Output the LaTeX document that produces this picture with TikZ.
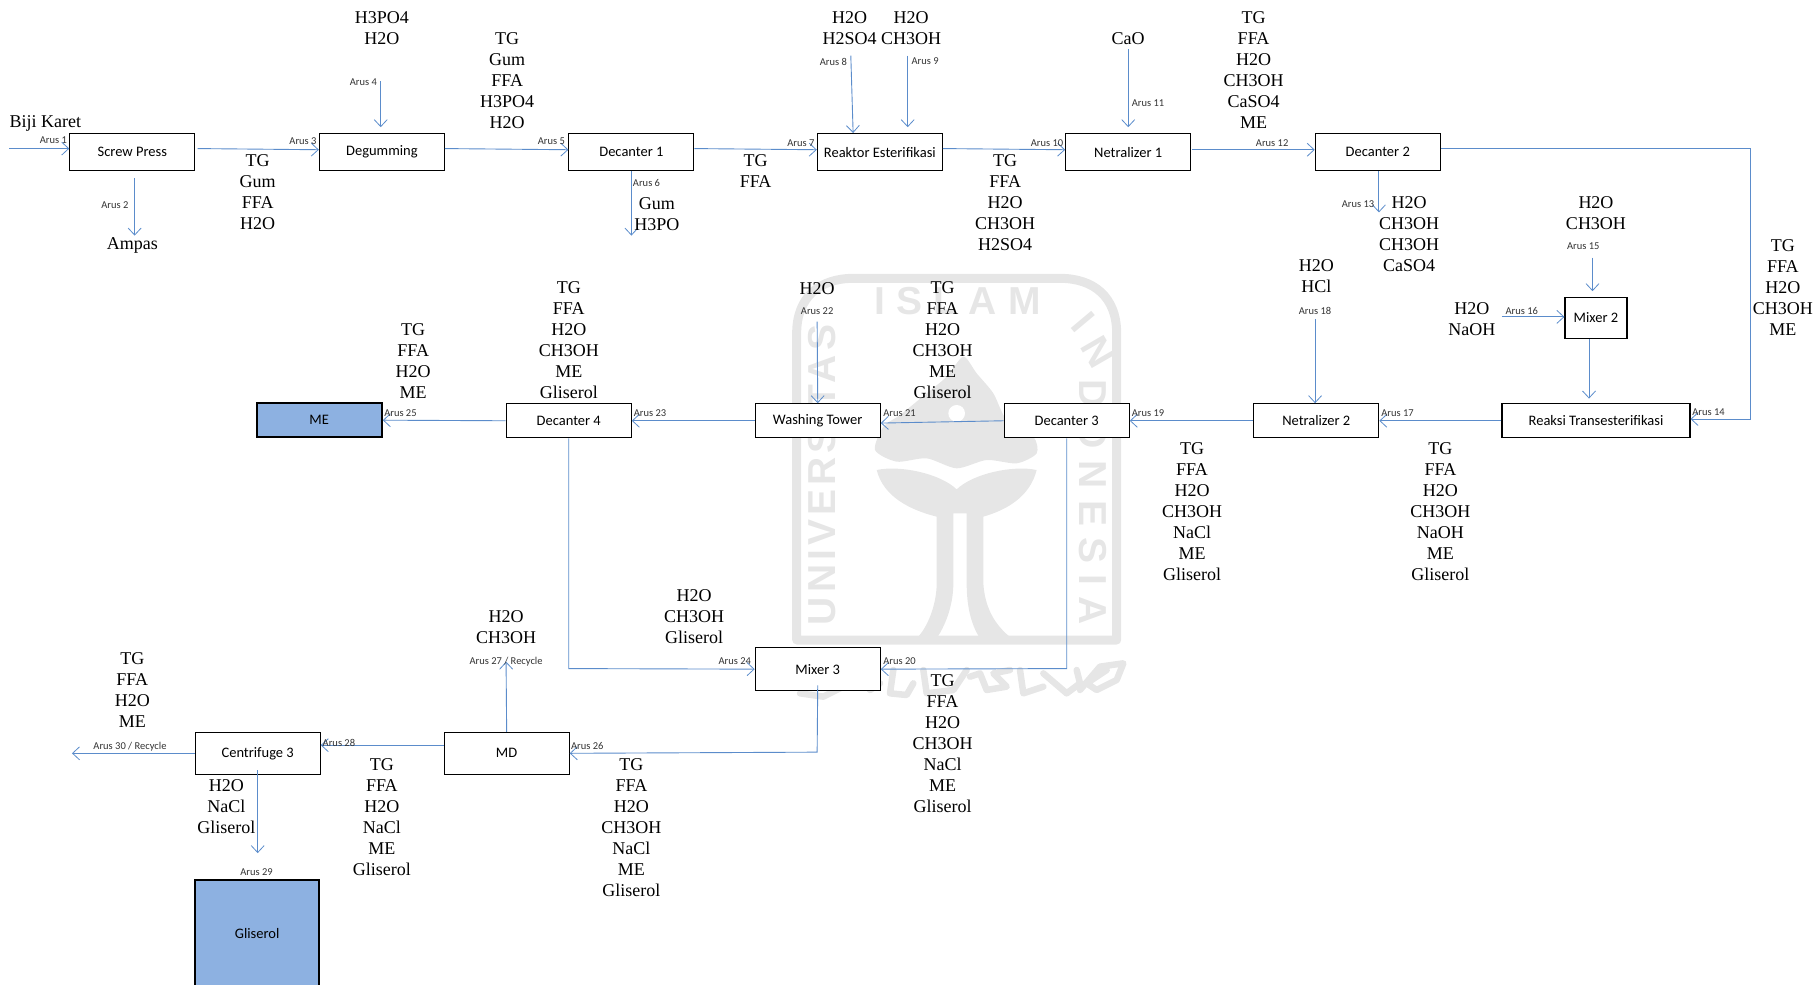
\documentclass[tikz,border=0pt]{standalone}
\usepackage{fontspec}
\usetikzlibrary{arrows.meta}
\setmainfont{Liberation Serif}
\newfontfamily\boxfont{Carlito}
\newfontfamily\wmfont[LetterSpace=10.5]{Liberation Sans}
\newfontfamily\wmwide[LetterSpace=29]{Liberation Sans}
\definecolor{flow}{HTML}{5B8CCB}
\definecolor{wm}{HTML}{E6E6E6}
\definecolor{prod}{HTML}{8DB1E1}
\tikzset{
  unit/.style={draw=black,line width=1.1pt,fill=white,inner sep=0pt,font=\boxfont\fontsize{14.5}{16}\selectfont},
  prodbox/.style={draw=black,line width=2.2pt,fill=prod,inner sep=0pt,font=\boxfont\fontsize{14.5}{16}\selectfont},
  stack/.style={align=center,inner sep=0pt,font=\fontsize{18}{21}\selectfont},
  arus/.style={inner sep=0pt,text=black!80,font=\boxfont\fontsize{10.5}{11}\selectfont},
  flowline/.style={draw=flow,line width=0.9pt,-{Straight Barb[length=7pt,width=13pt,line width=0.8pt]}},
  wmtext/.style={text=wm,inner sep=0pt,font=\wmfont\bfseries\fontsize{39}{41}\selectfont},
  wmwidetext/.style={text=wm,inner sep=0pt,font=\wmwide\bfseries\fontsize{39}{41}\selectfont},
  wmscript/.style={draw=wm,line width=6.5pt,line join=round,line cap=round}
}
\begin{document}
\begin{tikzpicture}[x=1.16071pt,y=-1.16071pt]
\useasboundingbox (0,0) rectangle (1568,847.8);
% watermark
\begin{scope}[x=0.33333pt,y=-0.33333pt,shift={(740pt,-250pt)}]
\draw[wm,line width=9pt,line join=round] (170,1170) -- (170,250) .. controls (170,140) and (240,85) .. (340,85) -- (960,85) .. controls (1060,85) and (1130,140) .. (1130,250) -- (1130,1170) -- cycle;
\fill[wm] plot[smooth cycle,tension=0.45] coordinates {(670,320) (710,370) (760,430) (800,510) (880,560) (890,610) (830,640) (740,630) (650,655) (560,625) (470,635) (405,600) (430,530) (480,495) (560,430) (620,380)};
\fill[white] (650,490) circle (25);
\fill[wm] (410,660) .. controls (480,645) and (600,670) .. (650,718) .. controls (700,670) and (820,645) .. (890,660) .. controls (870,740) and (800,780) .. (730,800) -- (730,1000) .. controls (735,1080) and (770,1130) .. (815,1165) -- (720,1165) .. controls (690,1120) and (680,1060) .. (680,1000) -- (680,790) -- (640,790) -- (640,1000) .. controls (640,1060) and (620,1120) .. (590,1165) -- (530,1165) .. controls (565,1130) and (590,1060) .. (590,1000) -- (590,800) .. controls (510,780) and (430,740) .. (410,660) -- cycle;
\node[wmtext,rotate=90] (wmu) at (245,675) {UNIVERSITAS};
\node[wmwidetext] (wmi) at (652,152) {ISLAM};
\node[wmtext,rotate=-50] (wmi2) at (1030,215) {I};
\node[wmtext,rotate=-60] (wmn2) at (1075,305) {N};
\node[wmwidetext,rotate=-90] (wmn) at (1060,757) {DONESIA};
\begin{scope}[shift={(120,1170)}]
\draw[wmscript] (50,130) -- (120,110) -- (200,100) -- (210,130) -- (130,170) -- (60,160);
\draw[wmscript] (240,100) -- (270,150) -- (300,130);
\draw[wmscript] (340,90) -- (330,160) -- (380,165) -- (400,130);
\draw[wmscript] (430,90) -- (440,160) -- (520,150) -- (560,90);
\draw[wmscript] (570,110) -- (600,100) -- (620,150) -- (680,140) -- (640,100) -- (690,90);
\draw[wmscript] (720,90) -- (730,160) -- (790,140);
\draw[wmscript] (790,100) -- (860,160) -- (900,130) -- (890,90);
\draw[wmscript] (900,150) -- (960,80) -- (1030,70) -- (1010,120) -- (950,150) -- (920,130) -- (980,90);
\end{scope}
\end{scope}
% units
\node[unit,minimum width=125pt,minimum height=37pt] (sp) at (114,131) {Screw Press};
\node[unit,minimum width=125pt,minimum height=37pt] (dg) at (329,131) {Degumming};
\node[unit,minimum width=125pt,minimum height=37pt] (d1) at (544,131) {Decanter 1};
\node[unit,minimum width=125pt,minimum height=37pt] (re) at (758,131) {Reaktor Esterifikasi};
\node[unit,minimum width=125pt,minimum height=37pt] (n1) at (972,131) {Netralizer 1};
\node[unit,minimum width=125pt,minimum height=37pt] (d2) at (1187,131) {Decanter 2};
\node[unit,minimum width=62pt,minimum height=41pt] (m2) at (1375,274) {Mixer 2};
\node[unit,minimum width=188pt,minimum height=34pt] (rt) at (1375,362.5) {Reaksi Transesterifikasi};
\node[unit,minimum width=125pt,minimum height=34pt] (n2) at (1134,362.5) {Netralizer 2};
\node[unit,minimum width=125pt,minimum height=34pt] (d3) at (919,362.5) {Decanter 3};
\node[unit,minimum width=125pt,minimum height=34pt] (wt) at (704.5,362.5) {Washing Tower};
\node[unit,minimum width=125pt,minimum height=34pt] (d4) at (490,362.5) {Decanter 4};
\node[prodbox,minimum width=125pt,minimum height=34pt] (me) at (275,362) {ME};
\node[unit,minimum width=125pt,minimum height=43pt] (m3) at (704.5,576.5) {Mixer 3};
\node[unit,minimum width=125pt,minimum height=42pt] (md) at (436.5,649) {MD};
\node[unit,minimum width=125pt,minimum height=42pt] (c3) at (222,649) {Centrifuge 3};
\node[prodbox,minimum width=124pt,minimum height=107pt] (gl) at (221.5,804) {Gliserol};
% free ends
\coordinate (f1) at (8,128);
\coordinate (f2) at (116,203);
\coordinate (f4) at (328,70);
\coordinate (f6) at (544,203);
\coordinate (f8) at (733,48);
\coordinate (f9) at (782,48);
\coordinate (f11) at (972,42);
\coordinate (f13) at (1188,183);
\coordinate (f15) at (1372,222);
\coordinate (f16) at (1294,273);
\coordinate (f18) at (1133,275);
\coordinate (f22) at (704,277);
\coordinate (f27) at (436,570);
\coordinate (f29) at (222,735);
\coordinate (f30) at (62,649);
\coordinate (k14a) at (1508,128);
\coordinate (k14b) at (1508,361);
\coordinate (k20) at (919,576);
\coordinate (k24) at (490,576);
\coordinate (k26) at (704,648);
% connectors
\draw[flowline] (f1) -- ([shift={(0,-3)}]sp.west);
\draw[flowline] ([shift={(2,6)}]sp.south) -- (f2);
\draw[flowline] ([shift={(2,-3)}]sp.east) -- ([shift={(0,-2)}]dg.west);
\draw[flowline] (f4) -- ([shift={(-1,-5)}]dg.north);
\draw[flowline] ([shift={(0,-3)}]dg.east) -- ([shift={(0,-2)}]d1.west);
\draw[flowline] (d1.south) -- (f6);
\draw[flowline] ([shift={(0,-3)}]d1.east) -- ([shift={(0,-2)}]re.west);
\draw[flowline] (f8) -- ([shift={(-23,0)}]re.north);
\draw[flowline] (f9) -- ([shift={(24,-5)}]re.north);
\draw[flowline] ([shift={(0,-3)}]re.east) -- ([shift={(0,-2)}]n1.west);
\draw[flowline] (f11) -- ([shift={(0,-5)}]n1.north);
\draw[flowline] ([shift={(1,-2)}]n1.east) -- ([shift={(0,-2)}]d2.west);
\draw[flowline] ([shift={(1,0)}]d2.south) -- (f13);
\draw[flowline] (f15) -- ([shift={(-3,-5)}]m2.north);
\draw[flowline] (f16) -- ([shift={(0,-1)}]m2.west);
\draw[flowline] ([shift={(-6,0)}]m2.south) -- ([shift={(-6,-4)}]rt.north);
\draw[flowline] ([shift={(0,-3)}]d2.east) -- (k14a) -- (k14b) -- ([shift={(0,-1.5)}]rt.east);
\draw[flowline] (rt.west) -- (n2.east);
\draw[flowline] (f18) -- ([shift={(-1,0)}]n2.north);
\draw[flowline] (n2.west) -- (d3.east);
\draw[flowline] (d3.west) -- ([shift={(0,2)}]wt.east);
\draw[flowline] (f22) -- (wt.north);
\draw[flowline] (wt.west) -- (d4.east);
\draw[flowline] (d4.west) -- (me.east);
\draw[flowline] (d3.south) -- (k20) -- (m3.east);
\draw[flowline] (d4.south) -- (k24) -- (m3.west);
\draw[flowline] ([shift={(0,-5)}]m3.south) -- (k26) -- (md.east);
\draw[flowline] (md.north) -- (f27);
\draw[flowline] ([shift={(0,-7)}]md.west) -- ([shift={(0,-7)}]c3.east);
\draw[flowline] ([shift={(0,-4)}]c3.south) -- (f29);
\draw[flowline] (c3.west) -- (f30);
% stream labels
\node[arus] (a1) at (46,121) {Arus 1};
\node[arus] (a2) at (99,177) {Arus 2};
\node[arus] (a3) at (261,122) {Arus 3};
\node[arus] (a4) at (313,71) {Arus 4};
\node[arus] (a5) at (475,122) {Arus 5};
\node[arus] (a6) at (557,158) {Arus 6};
\node[arus] (a7) at (690,123) {Arus 7};
\node[arus] (a8) at (718,53) {Arus 8};
\node[arus] (a9) at (797,53) {Arus 9};
\node[arus] (a10) at (902,123) {Arus 10};
\node[arus] (a11) at (989,89) {Arus 11};
\node[arus] (a12) at (1096,123) {Arus 12};
\node[arus] (a13) at (1170,176) {Arus 13};
\node[arus] (a14) at (1472,355) {Arus 14};
\node[arus] (a15) at (1364,212) {Arus 15};
\node[arus] (a16) at (1311,268) {Arus 16};
\node[arus] (a17) at (1204,356) {Arus 17};
\node[arus] (a18) at (1133,268) {Arus 18};
\node[arus] (a19) at (989,356) {Arus 19};
\node[arus] (a20) at (775,570) {Arus 20};
\node[arus] (a21) at (775,356) {Arus 21};
\node[arus] (a22) at (704,268) {Arus 22};
\node[arus] (a23) at (560,356) {Arus 23};
\node[arus] (a24) at (633,570) {Arus 24};
\node[arus] (a25) at (345,356) {Arus 25};
\node[arus] (a26) at (506,643) {Arus 26};
\node[arus] (a27) at (436,570) {Arus 27 / Recycle};
\node[arus] (a28) at (292,640) {Arus 28};
\node[arus] (a29) at (221,751) {Arus 29};
\node[arus] (a30) at (112,643) {Arus 30 / Recycle};
% compositions
\node[stack] (t1) at (39,106.5) {Biji Karet};
\node[stack] (t2) at (114,211.5) {Ampas};
\node[stack] (t3) at (222,165.5) {TG\\Gum\\FFA\\H2O};
\node[stack] (t4) at (329,24) {H3PO4\\H2O};
\node[stack] (t5) at (437,69.5) {TG\\Gum\\FFA\\H3PO4\\H2O};
\node[stack] (t6) at (566,184.5) {Gum\\H3PO};
\node[stack] (t7) at (651,147.5) {TG\\FFA};
\node[stack] (t8) at (732,24) {H2O\\H2SO4};
\node[stack] (t9) at (785,24) {H2O\\CH3OH};
\node[stack] (t10) at (866,174.5) {TG\\FFA\\H2O\\CH3OH\\H2SO4};
\node[stack] (t11) at (972,33) {CaO};
\node[stack] (t12) at (1080,60.5) {TG\\FFA\\H2O\\CH3OH\\CaSO4\\ME};
\node[stack] (t13) at (1214,201.5) {H2O\\CH3OH\\CH3OH\\CaSO4};
\node[stack] (t14) at (1375,183.5) {H2O\\CH3OH};
\node[stack] (t15) at (1536,247.5) {TG\\FFA\\H2O\\CH3OH\\ME};
\node[stack] (t16) at (1134,238) {H2O\\HCl};
\node[stack] (t17) at (1268,275) {H2O\\NaOH};
\node[stack] (t18) at (1241,440.5) {TG\\FFA\\H2O\\CH3OH\\NaOH\\ME\\Gliserol};
\node[stack] (t19) at (1027,440.5) {TG\\FFA\\H2O\\CH3OH\\NaCl\\ME\\Gliserol};
\node[stack] (t20) at (704,248.5) {H2O};
\node[stack] (t21) at (812,293) {TG\\FFA\\H2O\\CH3OH\\ME\\Gliserol};
\node[stack] (t22) at (490,293) {TG\\FFA\\H2O\\CH3OH\\ME\\Gliserol};
\node[stack] (t23) at (356,311) {TG\\FFA\\H2O\\ME};
\node[stack] (t24) at (598,531) {H2O\\CH3OH\\Gliserol};
\node[stack] (t25) at (436,540) {H2O\\CH3OH};
\node[stack] (t26) at (114,594.5) {TG\\FFA\\H2O\\ME};
\node[stack] (t27) at (812,640.5) {TG\\FFA\\H2O\\CH3OH\\NaCl\\ME\\Gliserol};
\node[stack] (t28) at (544,713) {TG\\FFA\\H2O\\CH3OH\\NaCl\\ME\\Gliserol};
\node[stack] (t29) at (329,704) {TG\\FFA\\H2O\\NaCl\\ME\\Gliserol};
\node[stack] (t30) at (195,695) {H2O\\NaCl\\Gliserol};
\end{tikzpicture}
\end{document}
